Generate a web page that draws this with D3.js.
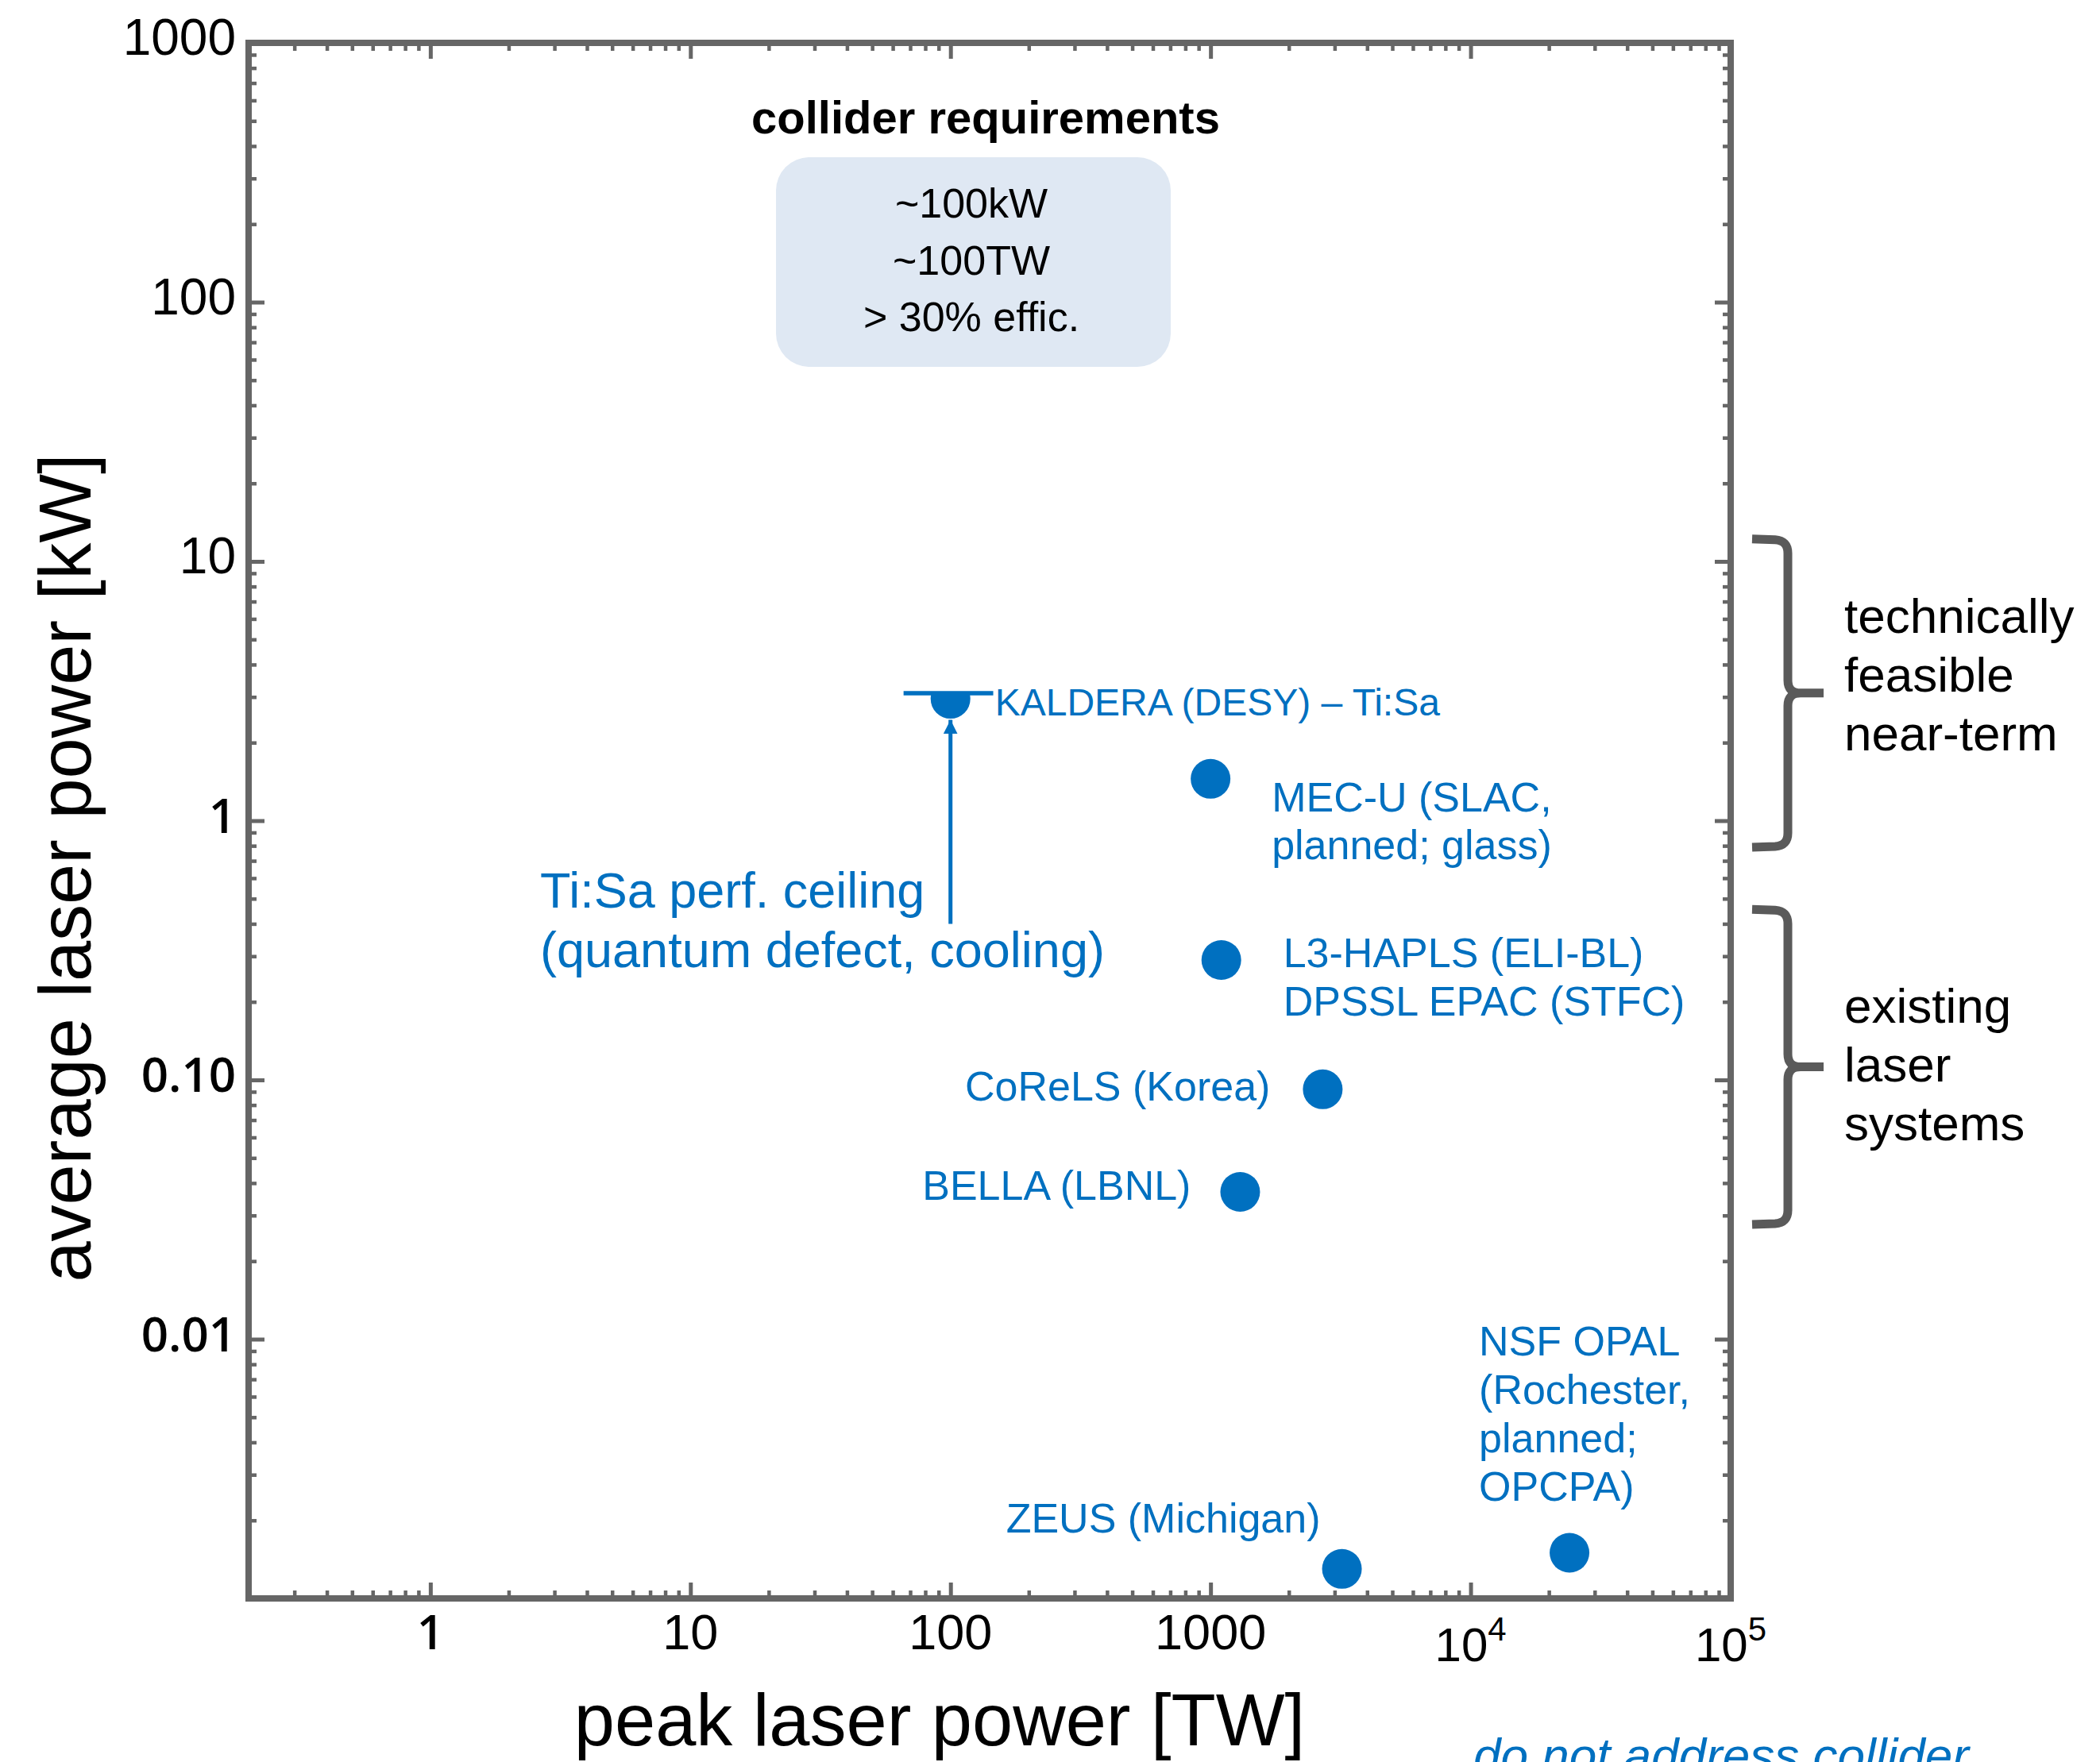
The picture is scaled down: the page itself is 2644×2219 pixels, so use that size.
<!DOCTYPE html>
<html>
<head>
<meta charset="utf-8">
<script src="https://cdn.jsdelivr.net/npm/d3@7"></script>
<style>
  html, body { margin: 0; padding: 0; background: #ffffff; }
  svg { display: block; }
</style>
</head>
<body>
<svg id="chart" width="2644" height="2219"></svg>
<script>
// ---------------- DATA ----------------
const systems = [
  "KALDERA (DESY) – Ti:Sa",
  "MEC-U (SLAC, planned; glass)",
  "L3-HAPLS (ELI-BL) / DPSSL EPAC (STFC)",
  "CoReLS (Korea)",
  "BELLA (LBNL)",
  "ZEUS (Michigan)",
  "NSF OPAL (Rochester, planned; OPCPA)"
];
const peakPowerTW = [100, 1000, 1100, 2700, 1300, 3200, 24000];
const avgPowerKW  = [2.95, 1.45, 0.29, 0.092, 0.037, 0.0013, 0.0015];
const labelLines = [
  ["KALDERA (DESY) – Ti:Sa"],
  ["MEC-U (SLAC,", "planned; glass)"],
  ["L3-HAPLS (ELI-BL)", "DPSSL EPAC (STFC)"],
  ["CoReLS (Korea)"],
  ["BELLA (LBNL)"],
  ["ZEUS (Michigan)"],
  ["NSF OPAL", "(Rochester,", "planned;", "OPCPA)"]
];

const xDomainTW = [0.2, 1e5];
const yDomainKW = [0.001, 1000];
const xTickValues = [1, 10, 100, 1000, 1e4, 1e5];
const xTickLabels = ["1", "10", "100", "1000", "10^4", "10^5"];
const yTickValues = [0.01, 0.1, 1, 10, 100, 1000];
const yTickLabels = ["0.01", "0.10", "1", "10", "100", "1000"];

const ceilingKW = 3.1;
const ceilingRangeTW = [66, 146];
const arrowFromKW = 0.40;
const arrowToKW = 2.45;
const ceilingText = ["Ti:Sa perf. ceiling", "(quantum defect, cooling)"];

const requirementsTitle = "collider requirements";
const requirements = ["~100kW", "~100TW", "> 30% effic."];

const braceSpansKW = [[12.2, 0.79], [0.455, 0.0277]];
const braceLabels = [["technically", "feasible", "near-term"], ["existing", "laser", "systems"]];

const xTitle = "peak laser power [TW]";
const yTitle = "average laser power [kW]";
const footnote = "do not address collider";

// ---------------- LAYOUT / STYLE ----------------
const BLUE = "#0070C0";
const AXIS = "#666666";
const BRACE = "#5a5a5a";
const FONT = "'Liberation Sans', Arial, Helvetica, sans-serif";
const WIDE = "'Open Sans', 'Liberation Sans', Arial, sans-serif";

const plot = { left: 313, right: 2179, top: 54, bottom: 2013 };
const R = 25;

const labelLayout = [
  { anchor: "start", dx: 56,  dy: 21,   size: 48, lh: 60 },
  { anchor: "start", dx: 77,  dy: 41,   size: 52, lh: 60 },
  { anchor: "start", dx: 78,  dy: 9,    size: 52, lh: 61 },
  { anchor: "end",   dx: -66, dy: 14,   size: 52, lh: 60 },
  { anchor: "end",   dx: -62, dy: 10,   size: 52, lh: 60 },
  { anchor: "end",   dx: -27, dy: -46,  size: 52, lh: 60 },
  { anchor: "start", dx: -114, dy: -249, size: 52, lh: 61 }
];

const svg = d3.select("#chart");

const x = d3.scaleLog().domain(xDomainTW).range([plot.left, plot.right]);
const y = d3.scaleLog().domain(yDomainKW).range([plot.bottom, plot.top]);

function logTicks(domain) {
  const maj = [], min = [];
  const e0 = Math.floor(Math.log10(domain[0])), e1 = Math.ceil(Math.log10(domain[1]));
  for (let e = e0; e <= e1; e++) {
    for (let k = 1; k < 10; k++) {
      const v = k * Math.pow(10, e);
      if (v <= domain[0] * 1.0001 || v >= domain[1] * 0.9999) continue;
      (k === 1 ? maj : min).push(v);
    }
  }
  return { maj, min };
}
const xt = logTicks(xDomainTW);
const yt = logTicks(yDomainKW);

const MAJ = 20, MIN = 10;

function styleAxis(g, w) {
  g.select(".domain").remove();
  g.selectAll(".tick line").attr("stroke", AXIS).attr("stroke-width", w);
  g.selectAll(".tick text").remove();
}

const axesG = svg.append("g");
[[xt.maj, MAJ, 5], [xt.min, MIN, 4.5]].forEach(([vals, len, w]) => {
  axesG.append("g").attr("transform", `translate(0,${plot.bottom})`)
    .call(d3.axisBottom(x).tickValues(vals).tickSize(-len).tickFormat(""))
    .call(g => styleAxis(g, w));
  axesG.append("g").attr("transform", `translate(0,${plot.top})`)
    .call(d3.axisTop(x).tickValues(vals).tickSize(-len).tickFormat(""))
    .call(g => styleAxis(g, w));
});
[[yt.maj, MAJ, 5], [yt.min, MIN, 4.5]].forEach(([vals, len, w]) => {
  axesG.append("g").attr("transform", `translate(${plot.left},0)`)
    .call(d3.axisLeft(y).tickValues(vals).tickSize(-len).tickFormat(""))
    .call(g => styleAxis(g, w));
  axesG.append("g").attr("transform", `translate(${plot.right},0)`)
    .call(d3.axisRight(y).tickValues(vals).tickSize(-len).tickFormat(""))
    .call(g => styleAxis(g, w));
});

// frame
svg.append("rect")
  .attr("x", plot.left).attr("y", plot.top)
  .attr("width", plot.right - plot.left).attr("height", plot.bottom - plot.top)
  .attr("fill", "none").attr("stroke", AXIS).attr("stroke-width", 8);

// tick labels
const wideLabel = s => s === "1" || s.indexOf(".") >= 0;

const xl = svg.append("g");
xTickValues.forEach((v, i) => {
  const lab = xTickLabels[i];
  const t = xl.append("text").attr("x", x(v)).attr("text-anchor", "middle").attr("fill", "#000");
  if (lab.indexOf("^") >= 0) {
    const [b, p] = lab.split("^");
    t.attr("y", plot.bottom + 79).attr("font-family", FONT).attr("font-size", 60);
    t.append("tspan").text(b);
    t.append("tspan").attr("font-size", 42).attr("dy", -26).text(p);
  } else {
    t.attr("y", plot.bottom + 64).text(lab)
      .attr("font-family", wideLabel(lab) ? WIDE : FONT)
      .attr("font-weight", wideLabel(lab) ? 600 : 400)
      .attr("font-size", wideLabel(lab) ? 60 : 63);
  }
});

const yl = svg.append("g");
yTickValues.forEach((v, i) => {
  const lab = yTickLabels[i];
  yl.append("text").attr("x", plot.left - 16).attr("y", y(v) + 15)
    .attr("text-anchor", "end").attr("fill", "#000")
    .attr("font-family", wideLabel(lab) ? WIDE : FONT)
    .attr("font-weight", wideLabel(lab) ? 600 : 400)
    .attr("font-size", wideLabel(lab) ? 60 : 64)
    .text(lab);
});

// axis titles
svg.append("text").attr("x", 1183).attr("y", 2198).attr("text-anchor", "middle")
  .attr("font-family", FONT).attr("font-size", 92).attr("fill", "#000").text(xTitle);
svg.append("text").attr("transform", "translate(114,1093) rotate(-90)").attr("text-anchor", "middle")
  .attr("font-family", FONT).attr("font-size", 92).attr("fill", "#000").text(yTitle);

// collider requirements box
svg.append("text").attr("x", 1241).attr("y", 168).attr("text-anchor", "middle")
  .attr("font-family", FONT).attr("font-weight", "bold").attr("font-size", 58).attr("fill", "#000")
  .text(requirementsTitle);
svg.append("rect").attr("x", 977).attr("y", 198).attr("width", 497).attr("height", 264)
  .attr("rx", 42).attr("ry", 42).attr("fill", "#DFE8F3");
requirements.forEach((s, i) => {
  svg.append("text").attr("x", 1223).attr("y", 274 + i * 71.5).attr("text-anchor", "middle")
    .attr("font-family", FONT).attr("font-size", 52).attr("fill", "#000").text(s);
});

// Ti:Sa ceiling line
const yc = y(ceilingKW);
svg.append("line").attr("x1", x(ceilingRangeTW[0])).attr("x2", x(ceilingRangeTW[1]))
  .attr("y1", yc).attr("y2", yc).attr("stroke", BLUE).attr("stroke-width", 5.5);

const defs = svg.append("defs");
defs.append("clipPath").attr("id", "belowCeiling")
  .append("rect").attr("x", x(ceilingRangeTW[0])).attr("y", yc + 1)
  .attr("width", x(ceilingRangeTW[1]) - x(ceilingRangeTW[0])).attr("height", plot.bottom - yc);

defs.append("marker").attr("id", "arrow").attr("viewBox", "0 0 10 10")
  .attr("refX", 10).attr("refY", 5).attr("markerWidth", 3.6).attr("markerHeight", 3.6)
  .attr("markerUnits", "strokeWidth").attr("orient", "auto")
  .append("path").attr("d", "M0,0 L10,5 L0,10 Z").attr("fill", BLUE);

svg.append("line").attr("x1", x(100)).attr("x2", x(100))
  .attr("y1", y(arrowFromKW)).attr("y2", y(arrowToKW))
  .attr("stroke", BLUE).attr("stroke-width", 5).attr("marker-end", "url(#arrow)");

ceilingText.forEach((s, i) => {
  svg.append("text").attr("x", 680).attr("y", 1143 + i * 75)
    .attr("font-family", FONT).attr("font-size", 63).attr("fill", BLUE).text(s);
});

// points
const pts = peakPowerTW.map((p, i) => ({ p, a: avgPowerKW[i], name: systems[i], lines: labelLines[i], lay: labelLayout[i] }));
const pg = svg.append("g");
pg.selectAll("circle").data(pts).join("circle")
  .attr("cx", d => x(d.p)).attr("cy", d => y(d.a)).attr("r", R)
  .attr("fill", BLUE)
  .attr("clip-path", d => (d.p >= ceilingRangeTW[0] && d.p <= ceilingRangeTW[1] && Math.abs(y(d.a) - yc) < R) ? "url(#belowCeiling)" : null);

pts.forEach(d => {
  const t = pg.append("text")
    .attr("x", x(d.p) + d.lay.dx).attr("y", y(d.a) + d.lay.dy)
    .attr("text-anchor", d.lay.anchor)
    .attr("font-family", FONT).attr("font-size", d.lay.size).attr("fill", BLUE);
  d.lines.forEach((s, j) => {
    t.append("tspan").attr("x", x(d.p) + d.lay.dx).attr("dy", j === 0 ? 0 : d.lay.lh).text(s);
  });
});

// braces
function bracePath(x0, xv, xt2, y0, y1) {
  const ym = (y0 + y1) / 2, r = 16;
  return `M${x0},${y0} L${xv - r},${y0 + 1} Q${xv},${y0 + 2} ${xv},${y0 + r + 2} ` +
         `L${xv},${ym - r} Q${xv},${ym} ${xv + r},${ym} L${xt2},${ym} ` +
         `M${xv + r},${ym} Q${xv},${ym} ${xv},${ym + r} ` +
         `L${xv},${y1 - r - 2} Q${xv},${y1 - 2} ${xv - r},${y1 - 1} L${x0},${y1}`;
}
const braceFirstBaseline = [797, 1288];
braceSpansKW.forEach((span, i) => {
  svg.append("path").attr("d", bracePath(2206, 2251, 2296, y(span[0]), y(span[1])))
    .attr("fill", "none").attr("stroke", BRACE).attr("stroke-width", 11);
  braceLabels[i].forEach((s, j) => {
    svg.append("text").attr("x", 2322).attr("y", braceFirstBaseline[i] + j * 74)
      .attr("font-family", FONT).attr("font-size", 62).attr("fill", "#000").text(s);
  });
});

// footnote (partially cut at page bottom, as in the reference)
svg.append("text").attr("x", 1855).attr("y", 2232)
  .attr("font-family", FONT).attr("font-style", "italic").attr("font-size", 62)
  .attr("fill", BLUE).text(footnote);
</script>
</body>
</html>
